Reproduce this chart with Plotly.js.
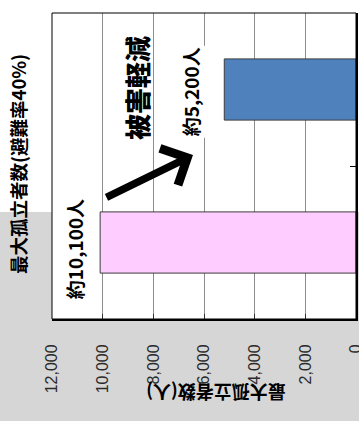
<!DOCTYPE html>
<html>
<head>
<meta charset="utf-8">
<script src="https://cdn.plot.ly/plotly-3.0.1.min.js"></script>
<style>
  html, body { margin: 0; padding: 0; background: #ffffff; }
  #wrap { position: relative; width: 359px; height: 421px; overflow: hidden; }
  .bg { position: absolute; background: #d6d6d6; }
  #bgLeft { left: 0; top: 212px; width: 60px; height: 209px; }
  #bgBottom { left: 0; top: 310px; width: 359px; height: 111px; }
  #bgRight { left: 350px; top: 212px; width: 9px; height: 209px; }
  #chart { position: absolute; left: 0; top: 0; width: 359px; height: 421px; }
</style>
</head>
<body>
<div id="wrap">
  <div class="bg" id="bgLeft"></div>
  <div class="bg" id="bgBottom"></div>
  <div class="bg" id="bgRight"></div>
  <div id="chart"></div>
</div>
<script>
// ---- data ----
const categories = ['対策前', '対策後'];
const values = [10100, 5200];
const barColors = ['#FFCCFF', '#4F81BD'];
const xTickVals = [0, 2000, 4000, 6000, 8000, 10000, 12000];
const chartTitle = '最大孤立者数(避難率40%)';
const axisTitle = '最大孤立者数(人)';
const calloutText = '被害軽減';
const valueLabels = values.map(v => '約' + v.toLocaleString('en-US') + '人');

// ---- styles ----
const cjk = '"Noto Sans CJK JP", "Noto Sans", sans-serif';
const labelShift = [{ xs: -10, ys: -7 }, { xs: -18, ys: -2 }];

const trace = {
  type: 'bar',
  orientation: 'h',
  x: values,
  y: categories,
  marker: { color: barColors, line: { color: '#3c3c3c', width: 1 } },
  hoverinfo: 'skip'
};

const annotations = valueLabels.map((t, i) => ({
  x: values[i], y: categories[i], xref: 'x', yref: 'y',
  text: t, textangle: -90, showarrow: false,
  xanchor: 'right', yanchor: 'middle',
  xshift: labelShift[i].xs, yshift: labelShift[i].ys,
  bgcolor: '#ffffff',
  font: { family: cjk, size: 19, color: '#000000', weight: 'bold' }
}));

annotations.push({
  x: 8646, y: 1.01, xref: 'x', yref: 'y',
  text: calloutText, textangle: -90, showarrow: false,
  xanchor: 'center', yanchor: 'middle',
  font: { family: cjk, size: 26, color: '#000000', weight: 900 }
});

annotations.push({
  x: 6435, y: 0.572, xref: 'x', yref: 'y',
  ax: 9909, ay: 0.29, axref: 'x', ayref: 'y',
  text: '', showarrow: true,
  arrowhead: 4, arrowsize: 1.05, arrowwidth: 7.5, arrowcolor: '#000000',
  standoff: 0, startstandoff: 0
});

annotations.push({
  x: -0.110, y: 0.505, xref: 'paper', yref: 'paper',
  text: chartTitle, textangle: -90, showarrow: false,
  xanchor: 'center', yanchor: 'middle',
  font: { family: cjk, size: 18.5, color: '#000000', weight: 'bold' }
});

annotations.push({
  x: 0.539, y: -0.242, xref: 'paper', yref: 'paper',
  text: axisTitle, textangle: 180, showarrow: false,
  xanchor: 'center', yanchor: 'middle',
  font: { family: cjk, size: 18, color: '#000000', weight: 'bold' }
});

const shapes = [
  { type: 'rect', xref: 'paper', yref: 'paper', x0: 0, x1: 1, y0: 0, y1: 1,
    fillcolor: 'rgba(0,0,0,0)', line: { color: '#000000', width: 1 }, layer: 'above' }
];

const layout = {
  width: 359, height: 421,
  margin: { l: 52, r: 3, t: 13, b: 102 },
  paper_bgcolor: 'rgba(0,0,0,0)',
  plot_bgcolor: '#ffffff',
  showlegend: false,
  bargap: 0.6,
  xaxis: {
    range: [12000, 0],
    tickvals: xTickVals,
    tickformat: ',d',
    tickangle: -90,
    ticks: 'inside', ticklen: 5, tickcolor: '#333333',
    ticklabelstandoff: 17,
    ticklabeloverflow: 'allow',
    tickfont: { family: '"Liberation Sans", Arial, sans-serif', size: 16, color: '#2a2a2a' },
    showgrid: true, gridcolor: '#8c8c8c', gridwidth: 1,
    zeroline: false,
    showline: true, linecolor: '#000000', linewidth: 2,
    fixedrange: true
  },
  yaxis: {
    type: 'category',
    categoryorder: 'array', categoryarray: categories,
    range: [-0.5, 1.5],
    side: 'right',
    showticklabels: false,
    ticks: 'inside', tickson: 'boundaries', ticklen: 6, tickcolor: '#000000',
    showgrid: false, zeroline: false,
    showline: true, linecolor: '#000000', linewidth: 2,
    fixedrange: true
  },
  annotations: annotations,
  shapes: shapes
};

Plotly.newPlot('chart', [trace], layout, { displayModeBar: false, staticPlot: true });
</script>
</body>
</html>
